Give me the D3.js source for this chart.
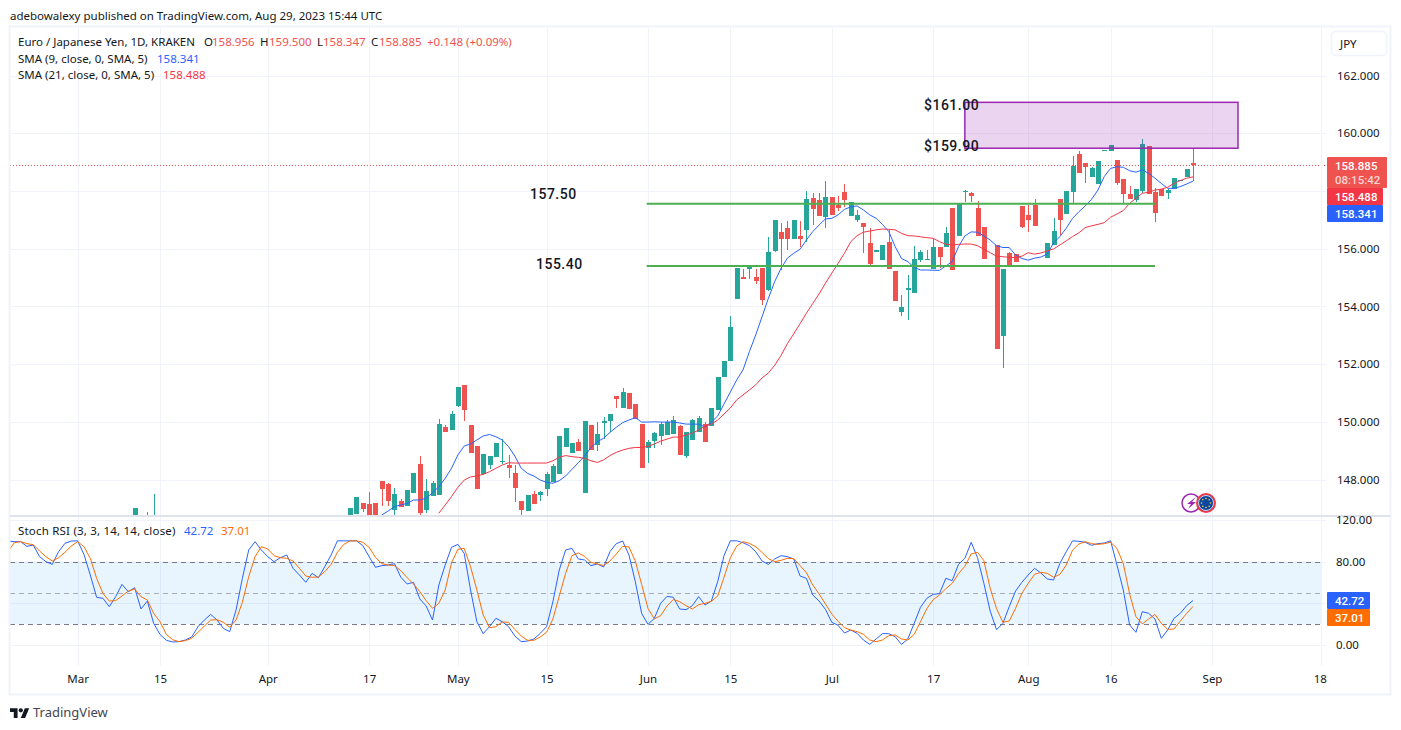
<!DOCTYPE html>
<html>
<head>
<meta charset="utf-8">
<script src="https://cdn.jsdelivr.net/npm/d3@7"></script>
<style>
  html, body { margin: 0; padding: 0; background: #fff; }
  svg { display: block; }
  text { font-family: "Noto Sans", sans-serif; }
</style>
</head>
<body>
<div id="chart"></div>
<script>
// bar numbers run from 0 at the left edge of the window, 187 is the last candle
const lastBar = 187;

// tick labels, 158 has a grid line but its label sits behind the price badges
const priceTicks = [148, 150, 152, 154, 156, 158, 160, 162];
const priceLabels = [148, 150, 152, 154, 156, 160, 162];
const stochTicks = [0, 80, 120];
const stochGrid = [0, 40, 80, 120];
const timeTickBars = [11, 24, 41, 57, 71, 85, 101, 114, 130, 146, 161, 174, 190, 207];
const timeTickLabels = ['Mar', '15', 'Apr', '17', 'May', '15', 'Jun', '15', 'Jul', '17', 'Aug', '16', 'Sep', '18'];

// the few candles that poke into the window on the far left
const earlyBars = [20, 22, 23];
const earlyOpens = [146.6, 146.7, 146.5];
const earlyHighs = [147.01, 146.88, 147.5];
const earlyLows = [146.5, 146.5, 146.5];
const earlyCloses = [147.01, 146.6, 146.7];

// candles from bar 54 on, null = no bar that day
const firstBar = 54;
const opens = [146.6,146.8,147.19,147.15,147.19,147.95,147.84,146.94,147.26,147.08,147.53,148.54,146.94,147.43,147.46,149.82,149.72,150.55,151.27,149.89,
  149.16,148.19,148.5,148.78,148.61,148.5,148.23,147.26,146.91,147.5,147.46,147.67,147.91,148.19,149.13,148.92,149.3,147.53,149.89,149.2,
  149.96,150.03,150.89,150.48,151,150.62,149.92,149.09,149.33,149.5,149.55,149.57,149.85,148.82,149.37,149.65,149.92,149.85,150.41,151.55,
  152.11,154.26,155.02,155.3,155.02,155.33,154.57,155.92,156.58,156.71,156.33,156.44,156.65,157.75,157.69,157.09,157.79,157.51,157.96,157.13,
  156.99,156.89,156.19,155.88,155.6,156.23,155.23,153.8,154.57,154.46,155.61,155.61,155.3,156.06,156.06,157.41,156.44,157.96,157.93,157.41,
  156.75,null,156.13,152.97,155.85,155.81,157.48,157.17,157.51,null,155.68,156.13,157.72,157.2,157.96,159.28,158.97,158.48,158.24,159.39,
  159.39,159.07,158.41,157.89,157.69,158,159.56,157.96,158.07,157.93,158.07,158.35,158.48,158.956];
const highs = [147.01,147.39,147.19,147.57,147.19,147.95,147.88,147.71,147.32,147.64,148.23,148.81,148.02,147.95,150.1,149.89,150.37,151.2,151.27,149.89,
  149.16,148.88,148.81,149.26,149.4,148.85,148.5,147.26,147.46,147.6,147.6,148.26,148.54,149.51,149.78,149.26,149.4,150.03,149.89,149.99,
  150.17,150.27,150.89,151.17,151,150.62,149.92,149.37,149.65,150,150.05,150.2,149.9,149.65,150.1,150.2,150,150.48,151.55,152.11,
  153.67,155.33,155.3,155.4,155.3,155.33,156.4,156.99,156.89,156.96,156.99,156.96,158,157.93,157.93,158.34,157.79,157.82,158.24,157.62,
  157.34,156.89,156.71,155.95,156.13,156.65,155.23,154.39,155.09,156.09,155.95,155.95,156.33,156.06,156.75,157.41,157.55,158.03,157.96,157.65,
  156.75,null,156.13,155.29,155.88,155.81,157.48,157.51,157.72,null,156.2,157.06,157.72,158,159.21,159.38,158.97,158.83,159.04,159.42,
  159.59,159.07,158.41,158.17,158.07,159.8,159.56,158.1,158.07,158.07,158.45,158.38,158.76,159.5];
const lows = [146.6,146.8,146.87,146.5,146.6,147.08,147.08,146.7,147.05,147.08,147.53,146.7,146.84,147.43,147.46,149.65,149.72,150.51,150.03,148.92,
  147.67,148.16,148.36,148.78,148.54,148.05,147.22,146.77,146.91,147.15,147.26,147.43,147.91,148.19,149.13,148.92,148.99,147.53,149.02,148.99,
  149.4,149.65,150.48,150.48,150.44,150.1,148.4,148.57,149.09,149.2,149.55,149.57,148.85,148.75,149.37,149.65,149.3,149.85,150.41,151.55,
  152.11,154.26,154.95,154.95,154.78,154.05,154.53,155.88,155.26,155.95,156.33,156.06,156.23,156.82,157.13,156.72,157.17,157.3,157.44,157.13,
  156.92,155.85,155.36,155.88,155.6,155.3,154.19,153.67,153.53,154.46,155.54,155.6,155.3,155.33,156.06,155.26,156.44,157.62,157.62,156.44,
  155.64,null,152.52,151.86,155.43,155.54,156.72,156.58,156.79,null,155.68,156.13,156.47,157.2,157.58,158.62,158.28,158.48,158.24,159.39,
  159.39,158.21,157.58,157.72,157.62,157.93,157.89,156.92,157.83,157.72,158.07,158.35,158.48,158.347];
const closes = [147.01,147.39,146.98,146.6,146.6,147.67,147.26,147.5,147.05,147.64,148.23,146.84,147.6,147.88,149.92,149.65,150.27,151.2,150.41,148.92,
  147.67,148.88,148.81,149.26,148.64,148.4,147.71,146.94,147.46,147.15,147.57,148.19,148.47,149.51,149.78,149.26,148.99,150.03,149.02,149.58,
  150.03,150.27,150.79,151.03,150.44,150.1,148.4,149.3,149.61,149.92,150,150.05,148.85,149.65,150.05,150.12,149.3,150.48,151.55,152.11,
  153.29,155.33,154.95,155.4,154.88,154.22,155.88,156.99,156.33,156.33,156.99,156.33,157.72,157.37,157.13,157.79,157.17,157.41,157.69,157.62,
  157.17,156.75,155.47,155.95,156.13,155.3,154.19,153.98,154.64,155.64,155.88,155.64,156.06,155.71,156.54,155.26,157.55,157.99,157.82,156.44,
  155.64,null,152.52,155.29,155.43,155.54,156.75,156.99,156.79,null,156.2,156.61,156.99,158,158.86,158.62,158.83,158.8,159.04,159.42,
  159.59,158.28,157.89,157.72,158.07,159.63,157.89,157.24,157.83,158.03,158.45,158.38,158.76,158.885];

// SMA (9) from bar 59, SMA (21) from bar 68
const sma9Start = 59;
const sma9 = [146.77,146.91,147.06,147.12,147.17,147.29,147.29,147.35,147.54,147.75,148.04,148.39,148.85,149.16,149.23,149.37,149.51,149.56,149.48,149.37,
  149.14,148.81,148.39,148.21,148.12,147.98,147.9,147.87,147.96,148.12,148.35,148.58,148.81,149.11,149.31,149.43,149.63,149.81,149.97,150.06,
  150.14,149.99,149.99,150,149.99,149.99,149.99,149.96,149.92,149.92,149.92,149.82,149.99,150.2,150.62,151.03,151.45,151.8,152.43,153.01,
  153.64,154.28,154.86,155.32,155.67,155.84,155.98,156.3,156.59,156.82,157.03,157.05,157.17,157.36,157.45,157.48,157.34,157.17,157.05,156.84,
  156.59,156.07,155.66,155.55,155.35,155.26,155.26,155.25,155.25,155.4,155.55,156.07,156.44,156.58,156.57,156.44,156.3,156.1,156.04,156.04,
  155.78,155.66,155.6,155.67,155.71,155.81,156.2,156.42,156.71,157.05,157.28,157.48,157.71,158.03,158.5,158.78,158.84,158.82,158.7,158.65,
  158.73,158.61,158.44,158.26,158.09,158.09,158.15,158.24,158.341];
const sma21Start = 68;
const sma21 = [146.83,147.12,147.41,147.73,147.98,148.09,148.12,148.18,148.27,148.39,148.5,148.58,148.57,148.57,148.57,148.57,148.57,148.57,148.65,148.77,
  148.83,148.79,148.77,148.73,148.65,148.59,148.68,148.83,148.94,149.02,149.08,149.11,149.11,149.15,149.23,149.33,149.4,149.47,149.47,149.54,
  149.61,149.71,149.85,149.92,150.06,150.27,150.48,150.76,150.93,151.1,151.28,151.52,151.69,151.96,152.3,152.71,153.05,153.4,153.76,154.1,
  154.43,154.8,155.15,155.49,155.84,156.24,156.45,156.57,156.61,156.65,156.68,156.67,156.65,156.53,156.45,156.44,156.41,156.38,156.36,156.24,
  156.15,156.13,156.15,156.16,156.16,156.1,155.98,155.86,155.74,155.72,155.7,155.69,155.74,155.86,155.81,155.85,155.92,155.99,156.13,156.27,
  156.42,156.55,156.73,156.79,156.84,156.9,157.09,157.2,157.32,157.57,157.74,157.92,157.95,158.03,158.06,158.13,158.26,158.36,158.44,158.488];

// Stoch RSI, one value per bar from bar 0
const stochK = [99.8,99.2,99.2,94.7,96,84.8,80,77.4,89.6,97.6,99.8,100,87,67.2,45.8,44.8,36.8,46.4,58.2,51.2,
  55,34.6,42.2,20.8,10.2,4.5,2.9,3.2,4.8,7.7,17.6,24,29.4,24,16,12.8,33.6,64,91.2,99.2,
  91.2,84.8,80,83.8,86.4,73.6,67.2,60.2,68.8,64.6,75.2,86.4,100,100,100,100,95.4,84.8,74.6,76.2,
  76.8,78.1,65,58.6,60.2,44.2,37.4,24,57.6,76.8,93.8,96.6,88,52.8,22.4,10.9,17.6,25.6,22.4,17.6,
  8.6,3.2,3.8,5.8,11.2,17.6,41.6,72,91.2,92.8,82.6,81.6,76.2,77.8,74.9,89.6,97.3,99.8,86.4,60.8,
  30.4,19.8,25.6,40,46.7,45.8,34.6,33.9,37.8,46.4,38.4,42.2,60.8,85.8,100,100,98.2,95.4,89.6,80.6,
  77.4,82.6,85.8,84.8,82.6,66.2,64,48,42.2,34.2,21.8,18.9,11.5,14.4,11.2,4.8,0.6,5.8,10.9,10.9,
  8,0.6,5.8,20.8,36.2,44.8,48.6,49.3,64,61.8,77.4,83.2,98.6,83.8,59.2,32.6,14.7,20.8,36.8,51.8,
  60.2,67.2,73.6,69.1,63.4,62.4,78.4,89.6,100,99.5,98.6,95.7,97.3,97.9,100,76.8,52.8,19.2,12.2,32,
  30.4,25,6.4,14.4,25.6,30.4,37.8,42.72];
const stochD = [89.6,98.2,99.2,97.3,96.3,90.2,84.8,80.6,83.8,89,95,99.2,94.4,83.2,64,49.6,42.2,42.6,47,51.8,
  53.8,46.4,43.2,30.4,22.4,10.2,5.1,3.2,4.2,6.4,12.2,18.2,24,24.3,21.8,17,24,41,65.6,84.8,
  94.4,92.2,85.8,83.8,83.2,80.6,73.6,66.2,65,65.3,70.4,77.4,89,96.6,100,100,98.6,93.8,84.2,78.1,
  76.8,76.2,71.4,64.6,58.6,51.2,42.6,35.2,40,52.8,79,91.8,92.8,75.2,52.8,28.8,16.6,17.6,22.1,21.8,
  15,8.6,4.5,4.5,7.7,12.2,25,47,68.8,85.8,88.3,85.1,79.4,77.8,76.2,80.6,87.4,94.7,94.1,80.6,
  58.2,35.2,25,28.2,37.4,43.8,41.6,37.8,34.6,38.7,40,41.9,47,65,83.8,95,99.2,97.6,94.4,89,
  82.9,80,81.3,83.2,82.9,76.2,69.4,57.6,49,39.4,29.8,22.7,16.6,14.4,12.8,10.2,4.8,3.2,4.8,9,
  9.6,5.8,4.8,10.2,22.4,34.9,43.5,48,54.1,59.2,68.5,75.5,87.4,89,81,54.4,34.9,21.8,23,35.2,
  49.6,59.2,67.8,69.8,68.8,65,67.8,76.8,91.2,97,99.2,97.3,96.6,97.3,98.6,92.8,78.1,49,27.2,20.2,
  25,29.4,20.8,15,15.4,23,30.4,37.01];

// drawn levels
const levelBars = [100.8, 181];
const supportLevels = [157.557, 155.4];
const boxBars = [151, 194.1];
const boxPrices = [159.48, 161.07];

const width = 1401, height = 730;
const paneLeft = 10, paneRight = 1321, frameRight = 1390;
const priceBottom = 515, stochTop = 517, stochBottom = 666;

const green = '#26a69a', red = '#ef5350', blue = '#2962ff', smaRed = '#f23645', orange = '#ff6d00';
const grid = '#f0f3fa', textColor = '#131722';
const fontSize = 11.5;

const x = d3.scaleLinear().domain([0, lastBar]).range([7.9, 1193]);
const y = d3.scaleLinear().domain([148, 162]).range([479.5, 75.5]);
const yStoch = d3.scaleLinear().domain([0, 120]).range([645, 520]);

const svg = d3.select('#chart').append('svg').attr('width', width).attr('height', height);
svg.append('rect').attr('width', width).attr('height', height).attr('fill', '#fff');

const defs = svg.append('defs');
defs.append('clipPath').attr('id', 'price-clip').append('rect')
  .attr('x', paneLeft).attr('y', 27).attr('width', paneRight - paneLeft).attr('height', priceBottom - 27);
defs.append('clipPath').attr('id', 'stoch-clip').append('rect')
  .attr('x', paneLeft).attr('y', stochTop).attr('width', paneRight - paneLeft).attr('height', stochBottom - stochTop);

// vertical grid
svg.append('g').selectAll('line').data(timeTickBars.filter(d => x(d) < paneRight - 2)).enter().append('line')
  .attr('x1', d => Math.round(x(d)) + 0.5).attr('x2', d => Math.round(x(d)) + 0.5)
  .attr('y1', 27).attr('y2', stochBottom).attr('stroke', grid);

// horizontal grid
svg.append('g').selectAll('line').data(priceTicks).enter().append('line')
  .attr('x1', paneLeft).attr('x2', paneRight + 5)
  .attr('y1', d => Math.round(y(d)) + 0.5).attr('y2', d => Math.round(y(d)) + 0.5)
  .attr('stroke', grid);
svg.append('g').selectAll('line').data(stochGrid).enter().append('line')
  .attr('x1', paneLeft).attr('x2', paneRight + 5)
  .attr('y1', d => Math.round(yStoch(d)) + 0.5).attr('y2', d => Math.round(yStoch(d)) + 0.5)
  .attr('stroke', grid);

// price pane
const pricePane = svg.append('g').attr('clip-path', 'url(#price-clip)');

const candles = [];
earlyBars.forEach((b, i) => candles.push({ bar: b, o: earlyOpens[i], h: earlyHighs[i], l: earlyLows[i], c: earlyCloses[i] }));
opens.forEach((o, i) => {
  if (o !== null) candles.push({ bar: firstBar + i, o: o, h: highs[i], l: lows[i], c: closes[i] });
});
const candleColor = d => (d.c >= d.o ? green : red);

pricePane.append('g').selectAll('rect').data(candles).enter().append('rect')
  .attr('x', d => Math.round(x(d.bar)))
  .attr('width', 1)
  .attr('y', d => Math.round(y(d.h)))
  .attr('height', d => Math.max(1, Math.round(y(d.l)) - Math.round(y(d.h))))
  .attr('fill', candleColor);

pricePane.append('g').selectAll('rect').data(candles).enter().append('rect')
  .attr('x', d => Math.round(x(d.bar)) - 2)
  .attr('width', 5)
  .attr('y', d => Math.round(y(Math.max(d.o, d.c))))
  .attr('height', d => Math.max(1, Math.round(y(Math.min(d.o, d.c))) - Math.round(y(Math.max(d.o, d.c)))))
  .attr('fill', candleColor);

const smaLine = start => d3.line().x((d, i) => x(start + i)).y(d => y(d));
pricePane.append('path').attr('d', smaLine(sma9Start)(sma9))
  .attr('fill', 'none').attr('stroke', blue).attr('stroke-width', 1);
pricePane.append('path').attr('d', smaLine(sma21Start)(sma21))
  .attr('fill', 'none').attr('stroke', smaRed).attr('stroke-width', 1);

// last price line
svg.append('line')
  .attr('x1', paneLeft).attr('x2', paneRight + 5)
  .attr('y1', Math.round(y(158.885)) + 0.5).attr('y2', Math.round(y(158.885)) + 0.5)
  .attr('stroke', red).attr('stroke-dasharray', '1 2');

// purple zone
const boxX = boxBars.map(x), boxY = boxPrices.map(y);
pricePane.append('rect')
  .attr('x', boxX[0]).attr('y', boxY[1])
  .attr('width', boxX[1] - boxX[0]).attr('height', boxY[0] - boxY[1])
  .attr('fill', 'rgba(156,39,176,0.2)').attr('stroke', '#9c27b0').attr('stroke-width', 1.5);

// green levels
pricePane.append('g').selectAll('line').data(supportLevels).enter().append('line')
  .attr('x1', x(levelBars[0])).attr('x2', x(levelBars[1]))
  .attr('y1', d => y(d)).attr('y2', d => y(d))
  .attr('stroke', '#4caf50').attr('stroke-width', 2);

// hand drawn notes
const notes = [
  { text: '$161.00', xp: 924, yp: 110 },
  { text: '$159.90', xp: 924, yp: 151 },
  { text: '157.50', xp: 530, yp: 199 },
  { text: '155.40', xp: 536, yp: 269 }
];
svg.append('g').selectAll('text').data(notes).enter().append('text')
  .attr('x', d => d.xp).attr('y', d => d.yp)
  .style('font-family', 'Roboto, sans-serif')
  .attr('font-size', 14).attr('font-weight', 500).attr('letter-spacing', 0.5)
  .attr('fill', '#131722')
  .text(d => d.text);

// stoch pane
const stochPane = svg.append('g').attr('clip-path', 'url(#stoch-clip)');
stochPane.append('rect')
  .attr('x', paneLeft).attr('width', paneRight - paneLeft)
  .attr('y', yStoch(80)).attr('height', yStoch(20) - yStoch(80))
  .attr('fill', 'rgba(33,150,243,0.1)');
stochPane.append('g').selectAll('line').data([80, 50, 20]).enter().append('line')
  .attr('x1', paneLeft).attr('x2', paneRight)
  .attr('y1', d => Math.round(yStoch(d)) + 0.5).attr('y2', d => Math.round(yStoch(d)) + 0.5)
  .attr('stroke', d => (d === 50 ? 'rgba(120,123,134,0.6)' : '#787b86'))
  .attr('stroke-dasharray', '5 4');

const stochLine = d3.line().x((d, i) => x(i)).y(d => yStoch(d));
stochPane.append('path').attr('d', stochLine(stochK))
  .attr('fill', 'none').attr('stroke', blue).attr('stroke-width', 1);
stochPane.append('path').attr('d', stochLine(stochD))
  .attr('fill', 'none').attr('stroke', orange).attr('stroke-width', 1);

// frame and separators
svg.append('rect').attr('x', paneLeft - 0.5).attr('y', 26.5)
  .attr('width', frameRight - paneLeft + 1).attr('height', 668)
  .attr('fill', 'none').attr('stroke', grid).attr('stroke-width', 2);
svg.append('line').attr('x1', paneRight + 0.5).attr('x2', paneRight + 0.5)
  .attr('y1', 27).attr('y2', stochBottom).attr('stroke', grid);
svg.append('rect').attr('x', paneLeft).attr('y', priceBottom)
  .attr('width', frameRight - paneLeft).attr('height', 2).attr('fill', '#e0e3eb');

// axes
const styleAxis = g => {
  g.select('.domain').remove();
  g.selectAll('.tick line').remove();
  g.selectAll('.tick text')
    .attr('fill', textColor)
    .style('font-family', '"Noto Sans", sans-serif')
    .style('font-size', fontSize + 'px');
};

svg.append('g').attr('transform', `translate(${paneRight + 16},0)`)
  .call(d3.axisRight(y).tickValues(priceLabels).tickFormat(d3.format('.3f')).tickSize(0).tickPadding(0))
  .call(styleAxis);
svg.append('g').attr('transform', `translate(${paneRight + 15},0)`)
  .call(d3.axisRight(yStoch).tickValues(stochTicks).tickFormat(d3.format('.2f')).tickSize(0).tickPadding(0))
  .call(styleAxis);

const timeLabel = d3.scaleOrdinal().domain(timeTickBars).range(timeTickLabels);
svg.append('g').attr('transform', 'translate(0,675)')
  .call(d3.axisBottom(x).tickValues(timeTickBars).tickFormat(d => timeLabel(d)).tickSize(0).tickPadding(0))
  .call(styleAxis);

// axis badges
const badge = (xp, yp, w, h, fill, rows) => {
  svg.append('rect').attr('x', xp).attr('y', yp).attr('width', w).attr('height', h).attr('fill', fill).attr('rx', 1);
  rows.forEach(r => {
    svg.append('text').attr('x', xp + 8).attr('y', r.y)
      .style('font-family', 'Roboto, sans-serif')
      .attr('font-size', fontSize).attr('font-weight', 500).attr('fill', r.fill || '#fff').text(r.text);
  });
};
badge(1327, 157, 60, 31, '#ef5350', [
  { text: '158.885', y: 170 },
  { text: '08:15:42', y: 184, fill: 'rgba(255,255,255,0.75)' }
]);
badge(1327, 188, 56, 17, smaRed, [{ text: '158.488', y: 201 }]);
badge(1327, 205, 56, 17, blue, [{ text: '158.341', y: 218 }]);
badge(1327, 592, 43, 17, blue, [{ text: '42.72', y: 605 }]);
badge(1327, 609, 43, 17, orange, [{ text: '37.01', y: 622 }]);

// currency button
svg.append('rect').attr('x', 1331.5).attr('y', 31.5).attr('width', 55).attr('height', 24).attr('rx', 4)
  .attr('fill', '#fff').attr('stroke', grid).attr('stroke-width', 1.5);
svg.append('text').attr('x', 1340).attr('y', 48).attr('font-size', fontSize).attr('fill', textColor).text('JPY');

// header and legend
const label = (xp, yp, txt, fill) => svg.append('text')
  .attr('x', xp).attr('y', yp).attr('font-size', fontSize).attr('fill', fill || textColor).text(txt);

label(10, 20, 'adebowalexy published on TradingView.com, Aug 29, 2023 15:44 UTC');
label(18, 46, 'Euro / Japanese Yen, 1D, KRAKEN');
[['O', 204, '158.956', 212], ['H', 260, '159.500', 269], ['L', 317, '158.347', 323], ['C', 371, '158.885', 379]]
  .forEach(d => { label(d[1], 46, d[0]); label(d[3], 46, d[2], red); });
label(427, 46, '+0.148 (+0.09%)', red);
label(18, 63, 'SMA (9, close, 0, SMA, 5)');
label(157, 63, '158.341', blue);
label(18, 79, 'SMA (21, close, 0, SMA, 5)');
label(163, 79, '158.488', smaRed);
label(18, 535, 'Stoch RSI (3, 3, 14, 14, close)').attr('letter-spacing', 0.2);
label(184, 535, '42.72', blue);
label(221, 535, '37.01', orange);

// event icons
const icons = svg.append('g');
icons.append('circle').attr('cx', 1191).attr('cy', 503).attr('r', 9)
  .attr('fill', '#fff').attr('stroke', '#9c27b0').attr('stroke-width', 1.5);
icons.append('path').attr('d', 'M1196 497l-9 7h4l-3 5 8-7h-4z').attr('fill', '#9c27b0');
icons.append('circle').attr('cx', 1206).attr('cy', 503).attr('r', 9)
  .attr('fill', '#0d47a1').attr('stroke', '#f23645').attr('stroke-width', 2);
icons.append('circle').attr('cx', 1206).attr('cy', 503).attr('r', 7.5)
  .attr('fill', 'none').attr('stroke', '#fff').attr('stroke-width', 0.8);
d3.range(8).forEach(i => {
  icons.append('circle')
    .attr('cx', 1206 + 4.5 * Math.cos(i * Math.PI / 4))
    .attr('cy', 503 + 4.5 * Math.sin(i * Math.PI / 4))
    .attr('r', 0.8).attr('fill', '#fdd835');
});

// TradingView mark
svg.append('g').attr('transform', 'translate(10,706) scale(0.54)')
  .append('path')
  .attr('d', 'M14 22H7V11H0V4h14v18zM28 22h-8l7.5-18h8L28 22z')
  .attr('fill', '#131722');
svg.append('circle').attr('cx', 10 + 20 * 0.54).attr('cy', 706 + 8 * 0.54).attr('r', 2.1).attr('fill', '#131722');
svg.append('text').attr('x', 33).attr('y', 717).attr('font-size', 13).attr('fill', '#434651').text('TradingView');
</script>
</body>
</html>
